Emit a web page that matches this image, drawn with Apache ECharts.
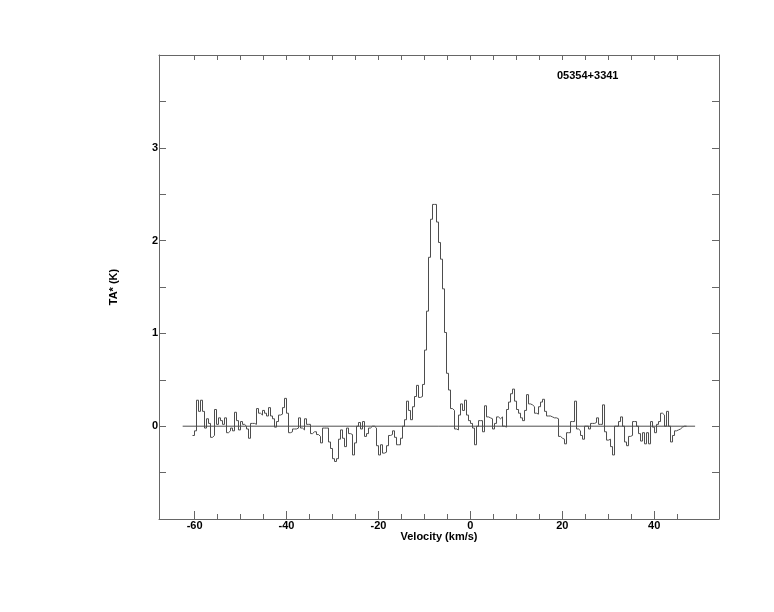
<!DOCTYPE html>
<html>
<head>
<meta charset="utf-8">
<script src="https://cdn.jsdelivr.net/npm/echarts@6/dist/echarts.min.js"></script>
<style>
  html, body { margin: 0; padding: 0; background: #ffffff; }
  #chart { width: 774px; height: 612px; }
</style>
</head>
<body>
<div id="chart"></div>
<script>
// ---- Data ----
const sourceName = '05354+3341';
const xAxisTitle = 'Velocity (km/s)';
const yAxisTitle = 'TA* (K)';

// Spectral channel grid: first channel centre and channel width (km/s)
const firstChannelVelocity = -60.243;
const channelWidth = 0.4352;

// Antenna temperature per channel (K)
const spectrumTA = [
  -0.10, -0.05, 0.28, 0.16, 0.28, 0.16, -0.02, 0.08, 0.03, -0.12,
  -0.10, 0.18, 0.02, 0.09, 0.06, 0.02, 0.09, -0.07, -0.05, -0.02,
  -0.05, 0.15, 0.06, -0.04, 0.05, 0.02, 0.00, -0.03, -0.13, 0.03,
  0.03, 0.02, 0.19, 0.14, 0.12, 0.17, 0.14, 0.11, 0.20, 0.11,
  0.08, -0.01, 0.05, 0.12, 0.13, 0.20, 0.30, 0.14, -0.07, -0.06,
  -0.03, -0.03, -0.02, 0.09, -0.02, -0.04, 0.08, 0.02, 0.02, -0.08,
  -0.06, -0.06, -0.09, -0.11, -0.18, -0.02, -0.02, -0.02, -0.17, -0.24,
  -0.35, -0.38, -0.35, -0.14, -0.04, -0.13, -0.22, -0.02, -0.08, -0.09,
  -0.31, -0.18, 0.00, 0.04, -0.03, 0.05, -0.11, -0.08, -0.02, 0.00,
  0.00, -0.02, -0.21, -0.31, -0.20, -0.29, -0.28, -0.21, -0.10, -0.09,
  -0.05, -0.12, -0.20, -0.20, -0.13, 0.00, 0.07, 0.27, 0.17, 0.07,
  0.21, 0.32, 0.44, 0.31, 0.32, 0.45, 0.82, 1.24, 1.82, 2.23,
  2.39, 2.39, 2.20, 1.98, 1.80, 1.48, 1.01, 0.57, 0.39, 0.19,
  0.17, -0.03, -0.04, 0.12, 0.24, 0.17, 0.28, 0.12, 0.06, 0.03,
  -0.02, -0.20, 0.00, 0.06, 0.06, -0.06, 0.22, 0.10, 0.09, 0.08,
  -0.03, 0.03, 0.10, 0.08, 0.10, 0.00, -0.01, 0.18, 0.26, 0.35,
  0.40, 0.27, 0.18, 0.14, 0.09, 0.06, 0.17, 0.34, 0.24, 0.23,
  0.21, 0.14, 0.13, 0.21, 0.26, 0.29, 0.16, 0.11, 0.11, 0.10,
  0.09, 0.09, 0.08, -0.11, -0.13, -0.14, -0.19, -0.07, -0.07, 0.05,
  0.05, 0.27, -0.03, -0.05, -0.10, -0.14, 0.00, 0.00, -0.03, 0.03,
  0.03, 0.04, 0.09, 0.02, 0.02, 0.23, -0.06, -0.15, -0.14, -0.22,
  -0.31, 0.00, 0.00, 0.05, 0.10, 0.00, -0.17, -0.21, -0.11, -0.10,
  0.05, 0.05, 0.00, -0.08, -0.16, -0.07, -0.19, -0.07, -0.19, 0.05,
  -0.01, -0.07, 0.02, 0.05, 0.14, 0.12, 0.00, 0.16, 0.00, -0.17,
  -0.10, -0.05, -0.04, -0.03, -0.01, 0.00, 0.00
];

// Zero baseline drawn across the spectrum (velocity extent, K)
const baselineVelocity = [-62.6, 48.9];
const baselineTA = [0, 0];

// Axis ranges and ticks
const xRange = [-67.75, 54.1];
const yRange = [-1, 4];
const xLabelValues = [-60, -40, -20, 0, 20, 40];
const xMinorTicks = [-60, -55, -50, -45, -40, -35, -30, -25, -20, -15, -10, -5, 0, 5, 10, 15, 20, 25, 30, 35, 40, 45];
const xMajorTicks = [-60, -40, -20, 0, 20, 40];
const yLabelValues = [0, 1, 2, 3];
const yTicks = [-0.5, 0, 0.5, 1, 1.5, 2, 2.5, 3, 3.5];

// ---- Build histogram (each channel drawn as a flat step across its width) ----
const spectrumData = [];
spectrumTA.forEach((t, i) => {
  const vc = firstChannelVelocity + i * channelWidth;
  spectrumData.push([vc - channelWidth / 2, t]);
  spectrumData.push([vc + channelWidth / 2, t]);
});
const baselineData = baselineVelocity.map((v, i) => [v, baselineTA[i]]);

const frameColor = '#666666';
const lineColor = '#4d4d4d';
const fontFamily = 'Liberation Sans, Arial, Helvetica, sans-serif';
const labelStyle = { color: '#000', fontSize: 11, fontWeight: 'bold', fontFamily: fontFamily };

const chart = echarts.init(document.getElementById('chart'), null, { renderer: 'canvas' });

chart.setOption({
  animation: false,
  backgroundColor: '#ffffff',
  title: {
    text: sourceName,
    left: 557,
    top: 70,
    padding: 0,
    textStyle: { color: '#000', fontSize: 11, fontWeight: 'bold', fontFamily: fontFamily }
  },
  grid: { left: 159, right: 55, top: 55, bottom: 93, containLabel: false },
  xAxis: [
    {
      type: 'value', min: xRange[0], max: xRange[1], position: 'bottom',
      axisLine: { show: true, onZero: false, lineStyle: { color: frameColor, width: 1 } },
      axisTick: { show: true, inside: true, length: 5, customValues: xMinorTicks, lineStyle: { color: frameColor } },
      axisLabel: Object.assign({ show: true, margin: 1, customValues: xLabelValues }, labelStyle),
      splitLine: { show: false },
      name: xAxisTitle, nameLocation: 'middle', nameGap: 12, nameMoveOverlap: false,
      nameTextStyle: labelStyle
    },
    {
      type: 'value', min: xRange[0], max: xRange[1], position: 'bottom',
      axisLine: { show: false, onZero: false },
      axisTick: { show: true, inside: true, length: 8, customValues: xMajorTicks, lineStyle: { color: frameColor } },
      axisLabel: { show: false },
      splitLine: { show: false }
    },
    {
      type: 'value', min: xRange[0], max: xRange[1], position: 'top',
      axisLine: { show: true, onZero: false, lineStyle: { color: frameColor, width: 1 } },
      axisTick: { show: true, inside: true, length: 5, customValues: xMinorTicks, lineStyle: { color: frameColor } },
      axisLabel: { show: false },
      splitLine: { show: false }
    }
  ],
  yAxis: [
    {
      type: 'value', min: yRange[0], max: yRange[1], position: 'left',
      axisLine: { show: true, onZero: false, lineStyle: { color: frameColor, width: 1 } },
      axisTick: { show: true, inside: true, length: 7, customValues: yTicks, lineStyle: { color: frameColor } },
      axisLabel: Object.assign({ show: true, margin: 1, customValues: yLabelValues }, labelStyle),
      splitLine: { show: false },
      name: yAxisTitle, nameLocation: 'middle', nameGap: 40, nameRotate: 90, nameMoveOverlap: false,
      nameTextStyle: labelStyle
    },
    {
      type: 'value', min: yRange[0], max: yRange[1], position: 'right',
      axisLine: { show: true, onZero: false, lineStyle: { color: frameColor, width: 1 } },
      axisTick: { show: true, inside: true, length: 7, customValues: yTicks, lineStyle: { color: frameColor } },
      axisLabel: { show: false },
      splitLine: { show: false }
    }
  ],
  series: [
    {
      type: 'line', name: 'baseline', data: baselineData,
      xAxisIndex: 0, yAxisIndex: 0,
      showSymbol: false, symbol: 'none', silent: true,
      lineStyle: { color: lineColor, width: 1 }
    },
    {
      type: 'line', name: 'spectrum', data: spectrumData,
      xAxisIndex: 0, yAxisIndex: 0,
      showSymbol: false, symbol: 'none', silent: true, sampling: null,
      lineStyle: { color: lineColor, width: 1 }
    }
  ]
});
</script>
</body>
</html>
